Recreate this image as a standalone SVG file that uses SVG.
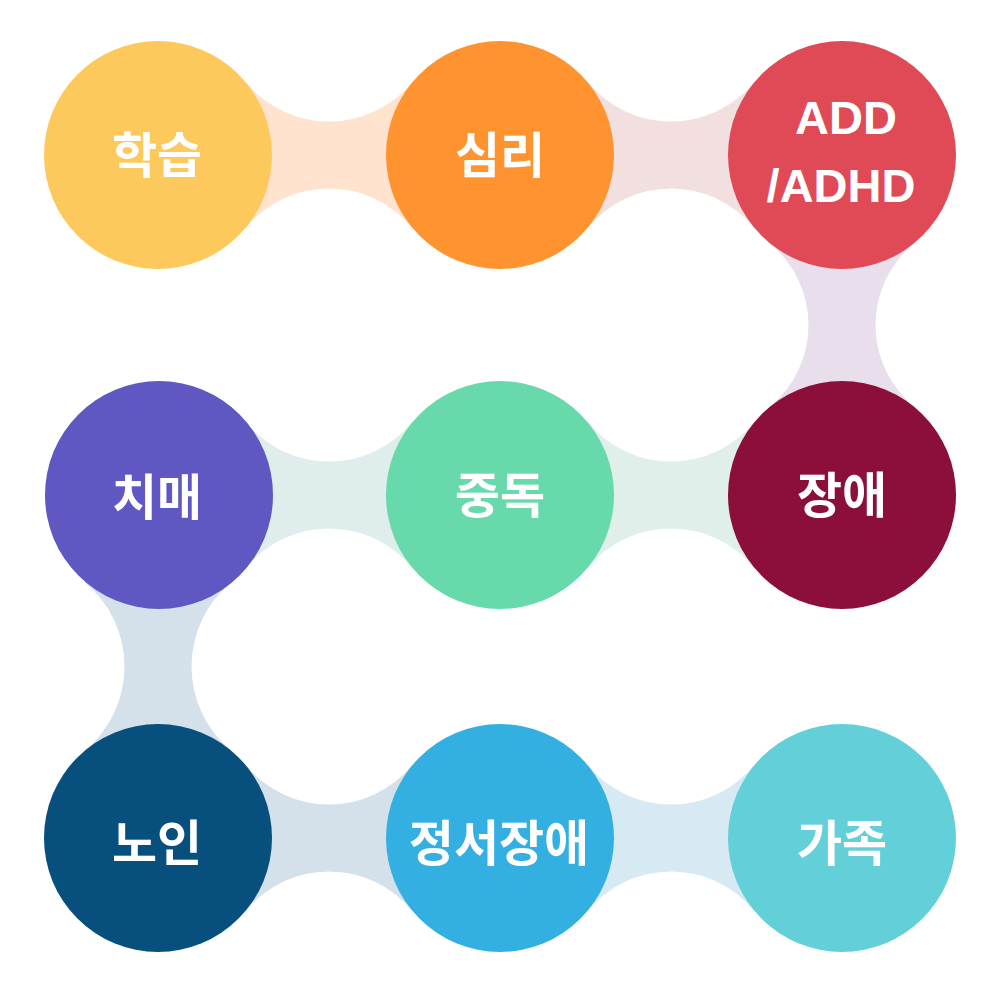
<svg xmlns="http://www.w3.org/2000/svg" xmlns:xlink="http://www.w3.org/1999/xlink" width="1000" height="990" viewBox="0 0 1000 990">
  <style>
    .lbl { font-family: "Noto Sans CJK KR", "Noto Sans", sans-serif; font-weight: 700; font-size: 49px; fill: #ffffff; text-anchor: middle; }
    .lat { font-family: "Liberation Sans", "Noto Sans", sans-serif; font-weight: 700; font-size: 47px; fill: #ffffff; text-anchor: middle; }
  </style>
  <defs>
    <path id="hb" d="M -83.14,-72.64 A 107.87 107.87 0 0 0 83.14,-72.64 L 171,0 L 83.14,72.64 A 107.87 107.87 0 0 0 -83.14,72.64 L -171,0 Z"/>
  </defs>
  <rect width="1000" height="990" fill="#ffffff"/>
  <g id="connectors">
    <use xlink:href="#hb" href="#hb" x="329" y="155" fill="#FFE3CF"/>
    <use xlink:href="#hb" href="#hb" x="671" y="155" fill="#F2E0E0"/>
    <path d="M 769.76,243.19 A 105.75 105.75 0 0 1 769.76,406.81 L 842,495 L 914.24,406.81 A 105.75 105.75 0 0 1 914.24,243.19 L 842,155 Z" fill="#E8DEEC"/>
    <use xlink:href="#hb" href="#hb" x="671" y="495" fill="#E0EFEA"/>
    <use xlink:href="#hb" href="#hb" x="329" y="495" fill="#DFEEEC"/>
    <path d="M 85.16,582.7 A 108.94 108.94 0 0 1 85.16,750.3 L 158,838 L 230.84,750.3 A 108.94 108.94 0 0 1 230.84,582.7 L 158,495 Z" fill="#D5E1EA"/>
    <use xlink:href="#hb" href="#hb" x="329" y="838" fill="#D4E0EA"/>
    <use xlink:href="#hb" href="#hb" x="671" y="838" fill="#D7EAF4"/>
  </g>
  <g id="n-learning">
    <circle cx="158" cy="155" r="114" fill="#FEC95C"/>
    <text class="lbl" x="157" y="173">학습</text>
  </g>
  <g id="n-psych">
    <circle cx="500" cy="155" r="114" fill="#FE9330"/>
    <text class="lbl" x="500" y="173">심리</text>
  </g>
  <g id="n-adhd">
    <circle cx="842" cy="155" r="114" fill="#E04A56"/>
    <text class="lat" x="846" y="134">ADD</text>
    <text class="lat" x="841" y="202">/ADHD</text>
  </g>
  <g id="n-disability">
    <circle cx="842" cy="495" r="114" fill="#8B0F3A"/>
    <text class="lbl" x="842" y="513">장애</text>
  </g>
  <g id="n-addiction">
    <circle cx="500" cy="495" r="114" fill="#68D9AA"/>
    <text class="lbl" x="500" y="513">중독</text>
  </g>
  <g id="n-dementia">
    <circle cx="159" cy="495" r="114" fill="#5F57C2"/>
    <text class="lbl" x="157" y="515">치매</text>
  </g>
  <g id="n-elderly">
    <circle cx="158" cy="838" r="114" fill="#07507D"/>
    <text class="lbl" x="157" y="861">노인</text>
  </g>
  <g id="n-emotional">
    <circle cx="500" cy="838" r="114" fill="#34AFE2"/>
    <text class="lbl" x="499" y="861">정서장애</text>
  </g>
  <g id="n-family">
    <circle cx="842" cy="838" r="114" fill="#62CFD9"/>
    <text class="lbl" x="842" y="861">가족</text>
  </g>
</svg>
